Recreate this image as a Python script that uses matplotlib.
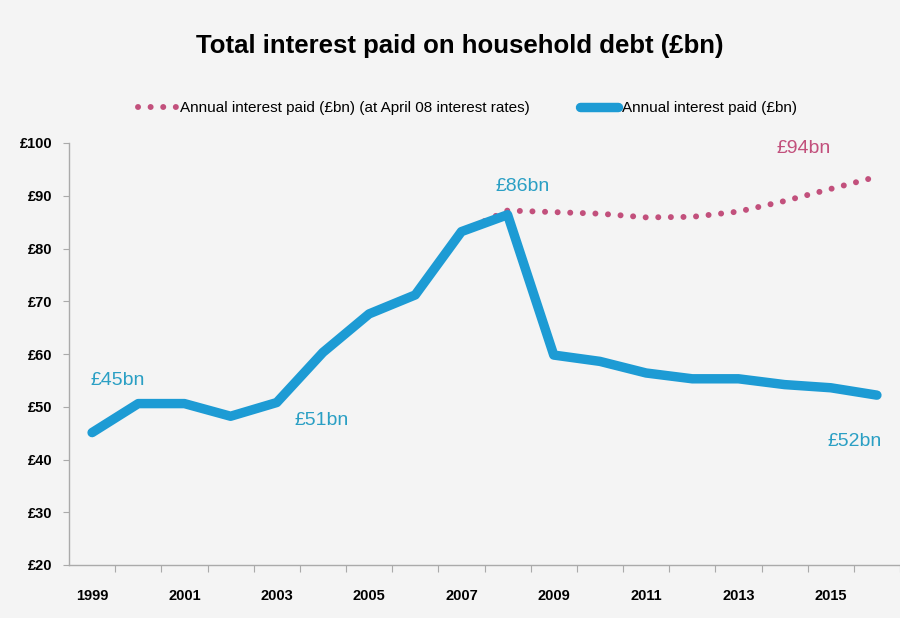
import numpy as np
import matplotlib.pyplot as plt
from matplotlib.lines import Line2D

# ============================================================
# DATA
# ============================================================
years = list(range(1999, 2017))
interest_paid = [45.1, 50.6, 50.6, 48.2, 50.8, 60.3, 67.6, 71.2, 83.2, 86.4,
                 59.8, 58.6, 56.4, 55.3, 55.3, 54.2, 53.6, 52.2]

years_fixed = list(range(2007, 2017))
interest_fixed = [83.2, 87.2, 86.9, 86.6, 85.9, 86.0, 87.0, 89.0, 91.3, 93.6]

y_ticks = [20, 30, 40, 50, 60, 70, 80, 90, 100]
y_labels = ["£20", "£30", "£40", "£50", "£60", "£70", "£80", "£90", "£100"]
x_labels = [1999, 2001, 2003, 2005, 2007, 2009, 2011, 2013, 2015]

notes = [  # text, x, y, colour
    ("£45bn", 1999.55, 54.9, "#2a9fc4"),
    ("£51bn", 2003.97, 47.3, "#2a9fc4"),
    ("£86bn", 2008.33, 91.7, "#2a9fc4"),
    ("£94bn", 2014.42, 99.0, "#c2507c"),
    ("£52bn", 2015.52, 43.5, "#2a9fc4"),
]

BLUE = "#1d9bd4"
PINK = "#c2507c"
BG = "#f4f4f4"
FONT = ["Liberation Sans", "DejaVu Sans"]

# ============================================================
# PLOT
# ============================================================
fig = plt.figure(figsize=(9, 6.18), dpi=100, facecolor=BG)
ax = fig.add_axes([69/900, 1 - 565/618, 831/900, (565 - 143)/618])
ax.set_facecolor(BG)

dots = (0, (0.01, 2.1))
ax.plot(years_fixed, interest_fixed, color=PINK, lw=4.3,
        linestyle=dots, dash_capstyle="round", zorder=2)
ax.plot(years, interest_paid, color=BLUE, lw=6.8,
        solid_capstyle="round", solid_joinstyle="round", zorder=3)

ax.set_xlim(1998.5, 2016.33)
ax.set_ylim(20, 100)

ax.set_yticks(y_ticks)
ax.set_yticklabels(y_labels, family=FONT, fontweight="bold", fontsize=10.5)
ax.set_xticks(np.arange(1999.5, 2017, 1))
ax.set_xticklabels([])
ax.set_xticks(x_labels, minor=True)
ax.set_xticklabels([str(y) for y in x_labels], minor=True,
                   family=FONT, fontweight="bold", fontsize=10.5)
ax.tick_params(axis="x", which="minor", length=0, pad=17)
ax.tick_params(axis="x", which="major", length=5, color="#aaaaaa")
ax.tick_params(axis="y", length=4, color="#aaaaaa", pad=8)

for s in ["top", "right"]:
    ax.spines[s].set_visible(False)
for s in ["left", "bottom"]:
    ax.spines[s].set_color("#aaaaaa")
    ax.spines[s].set_linewidth(1.0)

for txt, x, y, c in notes:
    ax.text(x, y, txt, color=c, fontsize=14, family=FONT, ha="center", va="center")

fig.text(0.5106, 0.926, "Total interest paid on household debt (£bn)",
         family=FONT, fontweight="bold", fontsize=18.5, ha="center", va="center")

handles = [
    Line2D([], [], color=PINK, lw=4.3, linestyle=dots, dash_capstyle="round"),
    Line2D([], [], color=BLUE, lw=6.8, solid_capstyle="round"),
]
leg = fig.legend(handles, ["Annual interest paid (£bn) (at April 08 interest rates)",
                           "Annual interest paid (£bn)"],
                 loc="center", bbox_to_anchor=(0.519, 0.825), ncol=2, frameon=False,
                 prop={"family": FONT, "size": 11}, handlelength=2.5,
                 handletextpad=0.25, columnspacing=3.3)

fig.savefig("out.png", dpi=100, facecolor=BG)
